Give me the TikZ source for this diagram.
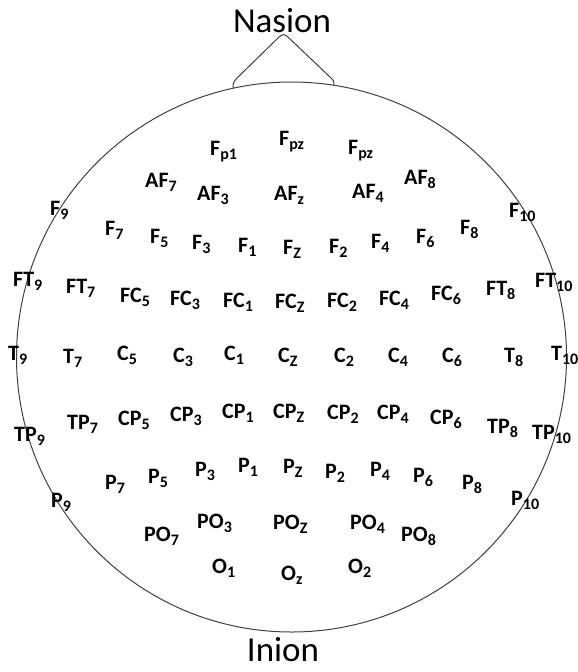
\documentclass[tikz,border=0pt]{standalone}
\usepackage{fontspec}
\setmainfont{Carlito}
\newcommand\elsub[1]{{\fontsize{16}{16}\selectfont\raisebox{-4.5pt}{#1}}}
\tikzset{
  lab/.style={anchor=base west, inner sep=0pt, font=\fontsize{22}{22}\selectfont\bfseries},
  landmark/.style={anchor=base, inner sep=0pt, font=\fontsize{35}{35}\selectfont},
  headline/.style={line width=1pt, draw=black!75}
}
\begin{document}
\begin{tikzpicture}[x=1pt,y=-1pt]
\useasboundingbox (0,0) rectangle (578,672);
\coordinate (ctr) at (291.5,357);
\draw[headline] (ctr) circle[radius=275];
\coordinate (noseL) at (233,88);
\coordinate (noseR) at (334,85);
\draw[headline] (noseL) .. controls (233,83) .. (237,78) -- (277,39)
  .. controls (283.5,33) .. (290,39) -- (330,77) .. controls (334,81) .. (noseR);
\node[landmark] (nasion) at (282,32) {Nasion};
\node[landmark] (inion) at (283,661) {Inion};
\foreach \n/\x/\y/\m/\s in {
 Fpi/210/155/F/p1, Fpz/279/145/F/pz, Fpzb/348/154/F/pz,
 AFvii/145/187/AF/7, AFiii/197/200/AF/3, AFz/274/200/AF/z, AFiv/352/198/AF/4, AFviii/404/184/AF/8,
 Fix/50/215/F/9, Fvii/105/235/F/7, Fv/150/243/F/5, Fiii/192/249/F/3, Fi/238/252/F/1,
 Fz/283/254/F/Z, Fii/329/253/F/2, Fiv/371/248/F/4, Fvi/416/243/F/6, Fviii/460/234/F/8, Fx/509/217/F/10,
 FTix/13/286/FT/9, FTvii/66/293/FT/7, FCv/120/302/FC/5, FCiii/170/305/FC/3, FCi/223/307/FC/1,
 FCz/275/308/FC/Z, FCii/327/307/FC/2, FCiv/379/305/FC/4, FCvi/431/300/FC/6, FTviii/486/295/FT/8, FTx/535/287/FT/10,
 Tix/8/360/T/9, Tvii/63/363/T/7, Cv/117/360/C/5, Ciii/173/362/C/3, Ci/224/360/C/1,
 Cz/278/362/C/Z, Cii/334/362/C/2, Civ/388/362/C/4, Cvi/442/362/C/6, Tviii/504/362/T/8, Tx/551/360/T/10,
 TPix/14/441/TP/9, TPvii/67/429/TP/7, CPv/118/425/CP/5, CPiii/170/421/CP/3, CPi/222/418/CP/1,
 CPz/273/418/CP/Z, CPii/327/419/CP/2, CPiv/377/419/CP/4, CPvi/430/424/CP/6, TPviii/487/433/TP/8, TPx/532/439/TP/10,
 Pix/51/507/P/9, Pvii/105/489/P/7, Pv/148/483/P/5, Piii/195/476/P/3, Pi/238/472/P/1,
 Pz/283/473/P/Z, Pii/325/478/P/2, Piv/370/476/P/4, Pvi/413/482/P/6, Pviii/462/489/P/8, Px/511/505/P/10,
 POvii/144/541/PO/7, POiii/197/528/PO/3, POz/273/529/PO/Z, POiv/350/529/PO/4, POviii/401/541/PO/8,
 Oi/212/573/O/1, Oz/281/580/O/z, Oii/348/573/O/2}
 \node[lab] (\n) at (\x,\y) {\m\elsub{\s}};
\end{tikzpicture}
\end{document}
